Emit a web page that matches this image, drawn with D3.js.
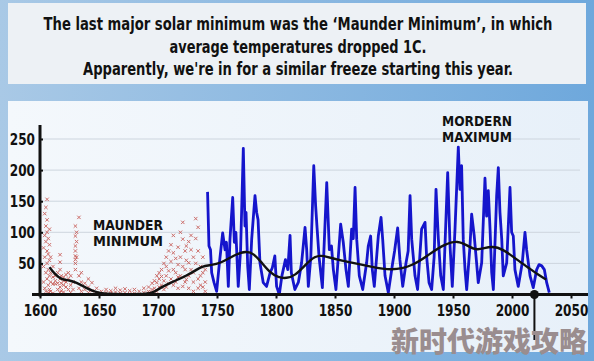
<!DOCTYPE html>
<html>
<head>
<meta charset="utf-8">
<script src="https://cdn.jsdelivr.net/npm/d3@7"></script>
<style>
    html, body { margin: 0; padding: 0; background: #8fb9e0; }
    svg { display: block; }
    text { font-family: "DejaVu Sans Condensed", "DejaVu Sans", sans-serif; font-stretch: condensed; font-weight: bold; }
</style>
</head>
<body>
<svg id="chart" width="594" height="361"></svg>
<script>
// title lines of the headline box
var titleLines = [
    "The last major solar minimum was the \u2018Maunder Minimum\u2019, in which",
    "average temperatures dropped 1C.",
    "Apparently, we're in for a similar freeze starting this year."
];

var xTicks = [1600, 1650, 1700, 1750, 1800, 1850, 1900, 1950, 2000, 2050];
var yTicks = [50, 100, 150, 200, 250];

// early telescope observations (red crosses), [year, sunspots]
var redSeries = [
    [1603, 20], [1603, 45], [1603, 75], [1604, 130], [1604, 95], [1604, 60], [1604, 10],
    [1605, 140], [1605, 110], [1605, 85], [1605, 35], [1605, 5], [1606, 153], [1606, 120],
    [1606, 100], [1606, 70], [1606, 50], [1606, 25], [1607, 90], [1607, 65], [1607, 40],
    [1607, 15], [1607, 3], [1608, 105], [1608, 80], [1608, 55], [1608, 30], [1608, 8],
    [1609, 60], [1609, 35], [1609, 20], [1609, 5], [1611, 45], [1611, 28], [1611, 17], [1611, 2],
    [1613, 22], [1613, 17], [1613, 30], [1615, 18], [1615, 8], [1615, 35], [1617, 64], [1617, 52],
    [1617, 40], [1617, 25], [1617, 12], [1617, 3], [1618, 30], [1618, 18], [1618, 6],
    [1620, 28], [1620, 15], [1620, 4], [1620, 22], [1622, 12], [1622, 32], [1622, 20],
    [1624, 35], [1624, 25], [1624, 8], [1626, 30], [1626, 15], [1626, 3], [1628, 20], [1628, 8],
    [1630, 110], [1630, 94], [1630, 78], [1630, 70], [1630, 62], [1630, 56], [1630, 50], [1630, 40],
    [1631, 100], [1631, 85], [1631, 60], [1633, 124], [1633, 30], [1633, 10], [1635, 35],
    [1635, 20], [1635, 5], [1638, 18], [1638, 8], [1641, 25], [1641, 12], [1641, 3], [1644, 19],
    [1644, 6], [1648, 10], [1648, 2], [1652, 5], [1652, 1], [1656, 8], [1656, 3], [1660, 6],
    [1660, 2], [1664, 10], [1664, 4], [1668, 7], [1668, 2], [1672, 9], [1672, 3], [1676, 6],
    [1676, 1], [1680, 8], [1680, 2], [1684, 5], [1688, 10], [1688, 3], [1692, 12], [1692, 5],
    [1692, 2], [1695, 18], [1695, 8], [1695, 3], [1697, 22], [1697, 10], [1699, 19], [1699, 30],
    [1699, 5], [1701, 35], [1701, 25], [1701, 12], [1703, 29], [1703, 15], [1703, 40],
    [1705, 50], [1705, 22], [1705, 8], [1707, 45], [1707, 60], [1707, 30], [1707, 12],
    [1709, 38], [1709, 18], [1709, 70], [1711, 53], [1711, 80], [1711, 25], [1713, 67],
    [1713, 40], [1713, 15], [1713, 95], [1715, 58], [1715, 35], [1715, 20], [1717, 76],
    [1717, 48], [1717, 28], [1717, 10], [1719, 100], [1719, 60], [1719, 30], [1721, 116],
    [1721, 89], [1721, 45], [1721, 13], [1723, 70], [1723, 40], [1723, 20], [1724, 78],
    [1724, 24], [1724, 55], [1726, 51], [1726, 85], [1726, 30], [1726, 10], [1728, 72],
    [1728, 95], [1728, 40], [1730, 35], [1730, 60], [1730, 20], [1730, 5], [1732, 122],
    [1732, 90], [1732, 50], [1734, 108], [1734, 70], [1734, 25], [1734, 10], [1736, 45],
    [1736, 30], [1736, 15], [1738, 60], [1738, 35], [1738, 12], [1740, 40], [1740, 20], [1740, 5]
];

// measured sunspot numbers (blue line), [year, sunspots]
var blueSeries = [
    [1742, 165], [1743.2, 78], [1744.5, 72], [1745.5, 35], [1747.5, 19], [1749.7, 5],
    [1752, 50], [1754.8, 99], [1756.8, 72], [1758, 84], [1759.6, 13], [1761, 89], [1763.3, 156],
    [1764.7, 84], [1766, 100], [1768, 13], [1770, 72], [1772.3, 235], [1773.7, 110], [1774.6, 132],
    [1776, 46], [1777.4, 8], [1779.4, 89], [1782.2, 159], [1783.6, 132], [1784.8, 120], [1786.4, 51],
    [1789.2, 19], [1792, 13], [1795, 35], [1796.9, 43], [1799, 62], [1800.5, 13], [1802.8, 0],
    [1805, 30], [1808, 56], [1810, 40], [1811.9, 95], [1813, 35], [1816, 8], [1819, 20],
    [1821.7, 51], [1824.6, 108], [1826, 72], [1827.4, 13], [1829.5, 60], [1832, 207], [1833.6, 142],
    [1834.7, 110], [1836.5, 60], [1839.3, 11], [1843, 180], [1845.2, 72], [1847, 78], [1848.6, 40],
    [1850.8, 8], [1854.8, 113], [1857, 84], [1859.3, 40], [1861.3, 13], [1864.1, 105], [1865.5, 90],
    [1867, 172], [1868.4, 89], [1870.6, 30], [1873.5, 8], [1876.8, 51], [1878.2, 78], [1880.2, 94],
    [1881.6, 40], [1883.3, 13], [1886.7, 94], [1889, 124], [1890.4, 89], [1892.4, 30], [1895.2, 3],
    [1898.9, 51], [1900.5, 70], [1903.1, 107], [1905, 56], [1907.4, 13], [1910.2, 51], [1912, 70],
    [1913.6, 159], [1915, 89], [1917.8, 30], [1920, 8], [1923.4, 105], [1926.3, 116], [1927.6, 62],
    [1929.7, 19], [1931.9, 8], [1934, 60], [1935.6, 169], [1937.6, 89], [1939.6, 30], [1941.8, 8],
    [1945.5, 196], [1947.5, 78], [1949.4, 13], [1951.7, 105], [1954.5, 237], [1955.9, 169],
    [1957.3, 207], [1958.7, 89], [1960.2, 40], [1961.6, 8], [1964.4, 78], [1965.8, 129], [1968, 94],
    [1970, 51], [1971.4, 19], [1974.3, 51], [1977.1, 187], [1978.5, 126], [1979.9, 167], [1981.4, 105],
    [1982.8, 35], [1984.2, 8], [1987, 159], [1988.4, 204], [1989.8, 132], [1991.3, 89], [1992.6, 30],
    [1995.5, 51], [1998.3, 172], [1999.7, 100], [2001.1, 94], [2002.5, 40], [2005.3, 13],
    [2008.7, 51], [2011, 100], [2012.4, 72], [2015.3, 30], [2018, 11], [2020.9, 40], [2022.9, 48],
    [2025.2, 46], [2027.4, 40], [2029.4, 19], [2031.6, 3]
];

// long term average (black line), [year, sunspots]
var blackSeries = [
    [1608, 44], [1613, 32], [1618, 24], [1625, 23], [1631, 19], [1637, 13], [1645, 5], [1652, 2],
    [1660, 0.5], [1680, 0.5], [1690, 1], [1696, 3], [1704, 13], [1713, 21], [1724, 30], [1733, 40],
    [1737, 45], [1744, 47], [1753, 50], [1765, 64], [1775, 70], [1781, 66], [1788, 51], [1795, 35],
    [1802, 27], [1809, 26], [1816, 30], [1825, 48], [1833, 62], [1840, 63], [1851, 56], [1865, 51],
    [1880, 45], [1898, 38], [1916, 46], [1930, 65], [1943, 81], [1954, 87], [1963, 78], [1970, 70],
    [1983, 79], [1993, 72], [2002, 59], [2014, 43], [2022, 32], [2029, 24]
];

var nowYear = 2019;

var svg = d3.select('#chart');
var defs = svg.append('defs');

// backgrounds
var bg = defs.append('linearGradient').attr('id', 'bg').attr('x1', 0).attr('x2', 1).attr('y1', 0).attr('y2', 0);
bg.append('stop').attr('offset', 0).attr('stop-color', '#a9c9e6');
bg.append('stop').attr('offset', 1).attr('stop-color', '#6ea8dc');

var panel = defs.append('linearGradient').attr('id', 'panel').attr('x1', 0).attr('x2', 1).attr('y1', 0).attr('y2', 0);
panel.append('stop').attr('offset', 0).attr('stop-color', '#f4f8fc');
panel.append('stop').attr('offset', 1).attr('stop-color', '#e7f0f9');

svg.append('rect').attr('width', 594).attr('height', 361).attr('fill', 'url(#bg)');
svg.append('rect').attr('x', 8).attr('y', 3).attr('width', 578).attr('height', 81).attr('fill', '#edf1f5');
svg.append('rect').attr('x', 8).attr('y', 101).attr('width', 580).attr('height', 251).attr('fill', 'url(#panel)');

// headline
var titleWidths = [509, 257, 430];
svg.selectAll('.title')
    .data(titleLines)
    .enter().append('text')
    .attr('class', 'title')
    .attr('x', 298)
    .attr('y', function (d, i) { return 30 + i * 22.5 })
    .attr('text-anchor', 'middle')
    .attr('textLength', function (d, i) { return titleWidths[i] })
    .attr('lengthAdjust', 'spacingAndGlyphs')
    .style('font-size', '18px')
    .style('fill', '#111')
    .text(function (d) { return d });

var x = d3.scaleLinear().domain([1600, 2050]).range([40, 571]);
var y = d3.scaleLinear().domain([0, 250]).range([294.5, 139]);

// gridlines
svg.selectAll('.grid')
    .data(yTicks)
    .enter().append('line')
    .attr('x1', 40).attr('x2', 580)
    .attr('y1', function (d) { return y(d) })
    .attr('y2', function (d) { return y(d) })
    .style('stroke', '#cdd5de')
    .style('stroke-width', 1);

// red crosses
var cross = 1.7;
svg.append('g').selectAll('path')
    .data(redSeries)
    .enter().append('path')
    .attr('d', function (d) {
        var cx = x(d[0]), cy = y(d[1]);
        return 'M' + (cx - cross) + ',' + (cy - cross) + 'L' + (cx + cross) + ',' + (cy + cross) +
            'M' + (cx - cross) + ',' + (cy + cross) + 'L' + (cx + cross) + ',' + (cy - cross);
    })
    .style('stroke', '#c0403a')
    .style('stroke-width', 1)
    .style('opacity', 0.75);

var line = d3.line()
    .x(function (d) { return x(d[0]) })
    .y(function (d) { return y(d[1]) });

svg.append('path')
    .datum(blueSeries)
    .attr('d', line)
    .style('fill', 'none')
    .style('stroke', '#1515cc')
    .style('stroke-width', 2.8)
    .style('stroke-linejoin', 'round');

svg.append('path')
    .datum(blackSeries)
    .attr('d', line.curve(d3.curveBasis))
    .style('fill', 'none')
    .style('stroke', '#111')
    .style('stroke-width', 2.4);

// tick label width, condensed like the original lettering
function labelWidth(d) {
    return String(d).length * 8.4;
}

// axes
var xAxis = d3.axisBottom(x).tickValues(xTicks).tickSize(4).tickFormat(d3.format('d'));
var gx = svg.append('g').attr('transform', 'translate(0,' + y(0) + ')').call(xAxis);
gx.select('.domain').remove();
gx.selectAll('.tick line').style('stroke', '#111').style('stroke-width', 2);
gx.selectAll('.tick text')
    .attr('y', 10)
    .attr('dy', '0.71em')
    .attr('textLength', labelWidth)
    .attr('lengthAdjust', 'spacingAndGlyphs')
    .style('font-size', '16px')
    .style('fill', '#111');

var yAxis = d3.axisRight(y).tickValues(yTicks).tickSize(3);
var gy = svg.append('g').attr('transform', 'translate(40,0)').call(yAxis);
gy.select('.domain').remove();
gy.selectAll('.tick line').style('stroke', '#111').style('stroke-width', 2);
gy.selectAll('.tick text')
    .attr('x', -5)
    .attr('text-anchor', 'end')
    .attr('textLength', labelWidth)
    .attr('lengthAdjust', 'spacingAndGlyphs')
    .style('font-size', '16px')
    .style('fill', '#111');
svg.selectAll('.tick text').attr('font-family', null);

svg.append('line').attr('x1', 32).attr('x2', 588).attr('y1', y(0)).attr('y2', y(0))
    .style('stroke', '#111').style('stroke-width', 3);
svg.append('line').attr('x1', 40).attr('x2', 40).attr('y1', 125).attr('y2', y(0) + 2)
    .style('stroke', '#111').style('stroke-width', 3);

// "now" marker
svg.append('line').attr('x1', x(nowYear)).attr('x2', x(nowYear)).attr('y1', y(0)).attr('y2', 340)
    .style('stroke', '#111').style('stroke-width', 2);
svg.append('circle').attr('cx', x(nowYear)).attr('cy', y(0)).attr('r', 4.5).style('fill', '#111');

// annotations
function label(lines, cx, y0) {
    svg.selectAll(null)
        .data(lines)
        .enter().append('text')
        .attr('x', cx)
        .attr('y', function (d, i) { return y0 + i * 15.5 })
        .attr('text-anchor', 'middle')
        .attr('textLength', 70)
        .attr('lengthAdjust', 'spacingAndGlyphs')
        .style('font-size', '14.5px')
        .style('fill', '#111')
        .text(function (d) { return d });
}
label(['MAUNDER', 'MINIMUM'], 128, 230);
label(['MORDERN', 'MAXIMUM'], 477, 126);

// watermark
svg.append('text')
    .attr('x', 587).attr('y', 352)
    .attr('text-anchor', 'end')
    .style('font-family', '"Noto Sans CJK SC", sans-serif')
    .style('font-weight', 900)
    .style('font-size', '28px')
    .style('fill', '#9a8d8f')
    .text('新时代游戏攻略');
</script>
</body>
</html>
